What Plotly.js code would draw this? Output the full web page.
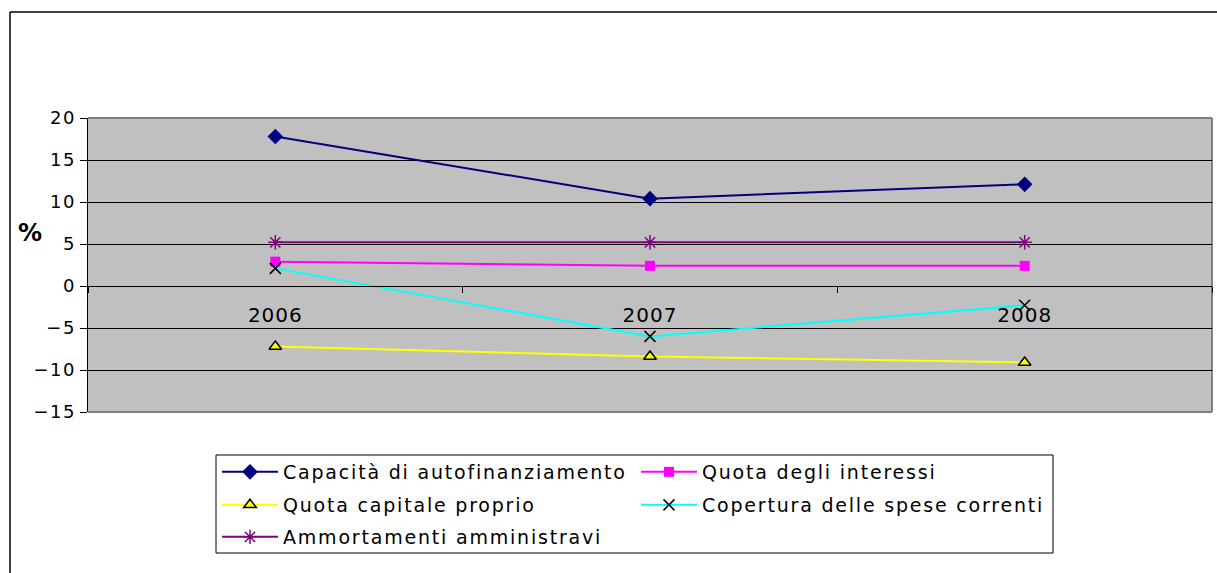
<!DOCTYPE html>
<html>
<head>
<meta charset="utf-8">
<script src="https://cdn.plot.ly/plotly-3.0.1.min.js"></script>
<style>
html,body{margin:0;padding:0;background:#fff;}
.ytick text{letter-spacing:1.5px;}
.xtick text{letter-spacing:1px;}
.infolayer g[class^="legend"] text{letter-spacing:1.8px;}
</style>
</head>
<body>
<div id="chart" style="width:1217px;height:573px;"></div>
<script>
const years = ['2006', '2007', '2008'];
const capacita = [17.8, 10.4, 12.1];
const quotaInteressi = [2.9, 2.4, 2.4];
const quotaCapitale = [-7.2, -8.4, -9.1];
const copertura = [2.1, -6.0, -2.3];
const ammortamenti = [5.2, 5.2, 5.2];
const seriesNames = ['Capacità di autofinanziamento', 'Quota degli interessi', 'Quota capitale proprio', 'Copertura delle spese correnti', 'Ammortamenti amministravi'];

const W = 1217, H = 573;
const L = 88, R = 1212, T = 118, B = 412;
const pw = R - L, ph = B - T;
const yMin = -15, yMax = 20;

function mk(y, name, lineColor, marker, legendId) {
  return {x: years, y: y, name: name, type: 'scatter', mode: 'lines+markers',
    line: {color: lineColor, width: 2}, marker: marker, legend: legendId};
}

const traces = [
  mk(capacita, seriesNames[0], '#000080', {symbol: 'diamond', size: 12, color: '#000080'}, 'legend'),
  mk(quotaInteressi, seriesNames[1], '#FF00FF', {symbol: 'square', size: 10, color: '#FF00FF'}, 'legend'),
  mk(quotaCapitale, seriesNames[2], '#FFFF00', {symbol: 'triangle-up', size: 11, color: '#FFFF00', line: {color: '#000', width: 1.5}}, 'legend2'),
  mk(copertura, seriesNames[3], '#00FFFF', {symbol: 'x-thin-open', size: 11, color: '#000', line: {color: '#000', width: 1.5}}, 'legend2'),
  mk(ammortamenti, seriesNames[4], '#800080', {symbol: 'asterisk-open', size: 12, color: '#800080', line: {color: '#800080', width: 1.5}}, 'legend3')
];

const px2x = p => (p - L) / pw;
const py2y = p => (B - p) / ph;

function leg(rowY) {
  return {
    orientation: 'h', xref: 'container', yref: 'container',
    x: 217 / W, y: 1 - rowY / H, xanchor: 'left', yanchor: 'middle',
    bgcolor: 'rgba(0,0,0,0)', borderwidth: 0,
    entrywidth: 348, itemwidth: 56,
    font: {size: 19}
  };
}

const layout = {
  width: W, height: H,
  margin: {l: L, r: W - R, t: T, b: H - B},
  paper_bgcolor: '#fff',
  plot_bgcolor: '#C0C0C0',
  font: {family: 'DejaVu Sans, Verdana, sans-serif', color: '#000', size: 17},
  showlegend: true,
  xaxis: {
    type: 'category', range: [-0.5, 2.5],
    anchor: 'free', position: (0 - yMin) / (yMax - yMin),
    showline: true, linecolor: '#000', linewidth: 1,
    ticks: 'outside', ticklen: 6, tickcolor: '#000', tickson: 'boundaries',
    showgrid: false, zeroline: false,
    ticklabelstandoff: 11,
    tickfont: {size: 20}
  },
  yaxis: {
    range: [yMin, yMax], dtick: 5, tick0: 0,
    showline: true, linecolor: '#000', linewidth: 1.5,
    ticks: 'outside', ticklen: 7, tickcolor: '#000',
    showgrid: true, gridcolor: '#000', gridwidth: 1,
    zeroline: true, zerolinecolor: '#000', zerolinewidth: 1,
    tickfont: {size: 18}
  },
  legend: leg(472),
  legend2: leg(505),
  legend3: leg(537),
  shapes: [
    {type: 'line', xref: 'paper', yref: 'paper', x0: px2x(10), x1: px2x(10), y0: py2y(12), y1: py2y(580), line: {color: '#000', width: 1.5}},
    {type: 'line', xref: 'paper', yref: 'paper', x0: px2x(10), x1: px2x(1230), y0: py2y(12), y1: py2y(12), line: {color: '#000', width: 1.5}},
    {type: 'line', xref: 'paper', yref: 'paper', x0: 0, x1: 1, y0: 1, y1: 1, line: {color: '#808080', width: 2}, layer: 'below'},
    {type: 'line', xref: 'paper', yref: 'paper', x0: 1, x1: 1, y0: 0, y1: 1, line: {color: '#808080', width: 2}, layer: 'below'},
    {type: 'line', xref: 'paper', yref: 'paper', x0: 0, x1: 1, y0: 0, y1: 0, line: {color: '#808080', width: 2}, layer: 'below'},
    {type: 'rect', xref: 'paper', yref: 'paper', x0: px2x(216), x1: px2x(1053), y0: py2y(455), y1: py2y(553), line: {color: '#000', width: 1}, fillcolor: 'rgba(0,0,0,0)'}
  ],
  annotations: [
    {text: '<b>%</b>', xref: 'paper', yref: 'paper', x: px2x(30), y: py2y(233), showarrow: false, font: {size: 24}, xanchor: 'center', yanchor: 'middle'}
  ]
};

Plotly.newPlot('chart', traces, layout, {displayModeBar: false, staticPlot: true}).then(function () {
  document.querySelectorAll('text.legendtext').forEach(function (t) { t.style.letterSpacing = '1.8px'; });
});
</script>
</body>
</html>
